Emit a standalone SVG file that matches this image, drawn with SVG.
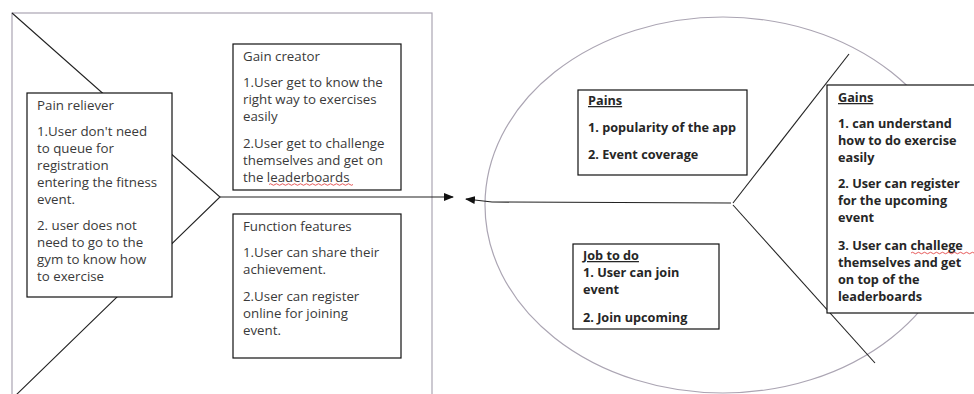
<svg xmlns="http://www.w3.org/2000/svg" width="974" height="394" viewBox="0 0 974 394">
<style>
.frame{fill:none;stroke:#aba5b3;stroke-width:1.2}
.line{fill:none;stroke:#222;stroke-width:1.1}
.box{fill:#fff;stroke:#111;stroke-width:1.2}
.t{font-family:"Open Sans","DejaVu Sans",sans-serif;font-size:13.3px;fill:#3a3a3a}
.b{font-family:"Open Sans","DejaVu Sans",sans-serif;font-size:12.7px;font-weight:bold;fill:#262626}
.u{text-decoration:underline}
.sq{fill:none;stroke:#e03030;stroke-width:0.8}
</style>
<defs>
<marker id="ah" markerWidth="10" markerHeight="8" refX="9" refY="4" orient="auto" markerUnits="userSpaceOnUse">
<path d="M0,0 L10,4 L0,8 z" fill="#111"/>
</marker>
</defs>
<rect width="974" height="394" fill="#fff"/>
<rect class="frame" x="12" y="13" width="420" height="400"/>
<ellipse class="frame" cx="723" cy="205" rx="238" ry="188"/>
<g id="connectors">
<path class="line" d="M12,13 L220,197 L14,397"/>
<path class="line" d="M220,197 L453,197" marker-end="url(#ah)"/>
<path class="line" d="M731,203 L492,202 L466,199" marker-end="url(#ah)"/>
<path class="line" d="M733,203 L849,54"/>
<path class="line" d="M733,205 L875,363"/>
</g>
<g id="pain-reliever">
<rect class="box" x="27" y="93" width="145" height="204"/>
<text class="t" x="37" y="110">Pain reliever</text>
<text class="t" x="37" y="136">1.User don't need</text>
<text class="t" x="37" y="153">to queue for</text>
<text class="t" x="37" y="170">registration</text>
<text class="t" x="37" y="187">entering the fitness</text>
<text class="t" x="37" y="204">event.</text>
<text class="t" x="37" y="230">2. user does not</text>
<text class="t" x="37" y="247">need to go to the</text>
<text class="t" x="37" y="264">gym to know how</text>
<text class="t" x="37" y="281">to exercise</text>
</g>
<g id="gain-creator">
<rect class="box" x="233" y="44" width="168" height="146"/>
<text class="t" x="243" y="61">Gain creator</text>
<text class="t" x="243" y="87">1.User get to know the</text>
<text class="t" x="243" y="104">right way to exercises</text>
<text class="t" x="243" y="121">easily</text>
<text class="t" x="243" y="148">2.User get to challenge</text>
<text class="t" x="243" y="165">themselves and get on</text>
<text class="t" x="243" y="182">the leaderboards</text>
<path class="sq" d="M269,184.5 q1.5,-1.5 3,0 t3,0 t3,0 t3,0 t3,0 t3,0 t3,0 t3,0 t3,0 t3,0 t3,0 t3,0 t3,0 t3,0 t3,0 t3,0 t3,0 t3,0 t3,0 t3,0 t3,0 t3,0 t3,0 t3,0 t3,0 t3,0 t3,0 t3,0"/>
</g>
<g id="function-features">
<rect class="box" x="233" y="214" width="168" height="144"/>
<text class="t" x="243" y="231">Function features</text>
<text class="t" x="243" y="257">1.User can share their</text>
<text class="t" x="243" y="274">achievement.</text>
<text class="t" x="243" y="301">2.User can register</text>
<text class="t" x="243" y="318">online for joining</text>
<text class="t" x="243" y="335">event.</text>
</g>
<g id="pains">
<rect class="box" x="578" y="90" width="169" height="85"/>
<text class="b u" x="588" y="105">Pains</text>
<text class="b" x="588" y="132">1. popularity of the app</text>
<text class="b" x="588" y="159">2. Event coverage</text>
</g>
<g id="gains">
<rect class="box" x="827" y="85" width="160" height="228"/>
<text class="b u" x="838" y="102">Gains</text>
<text class="b" x="838" y="128">1. can understand</text>
<text class="b" x="838" y="145">how to do exercise</text>
<text class="b" x="838" y="162">easily</text>
<text class="b" x="838" y="188">2. User can register</text>
<text class="b" x="838" y="205">for the upcoming</text>
<text class="b" x="838" y="222">event</text>
<text class="b" x="838" y="250">3. User can challege</text>
<text class="b" x="838" y="267">themselves and get</text>
<text class="b" x="838" y="284">on top of the</text>
<text class="b" x="838" y="301">leaderboards</text>
<path class="sq" d="M911,253 q1.5,-1.5 3,0 t3,0 t3,0 t3,0 t3,0 t3,0 t3,0 t3,0 t3,0 t3,0 t3,0 t3,0 t3,0 t3,0 t3,0 t3,0 t3,0 t3,0 t3,0 t3,0 t3,0"/>
</g>
<g id="job-to-do">
<rect class="box" x="573" y="244" width="146" height="85"/>
<text class="b u" x="583" y="260">Job to do</text>
<text class="b" x="583" y="277">1. User can join</text>
<text class="b" x="583" y="294">event</text>
<text class="b" x="583" y="322">2. Join upcoming</text>
</g>
</svg>
